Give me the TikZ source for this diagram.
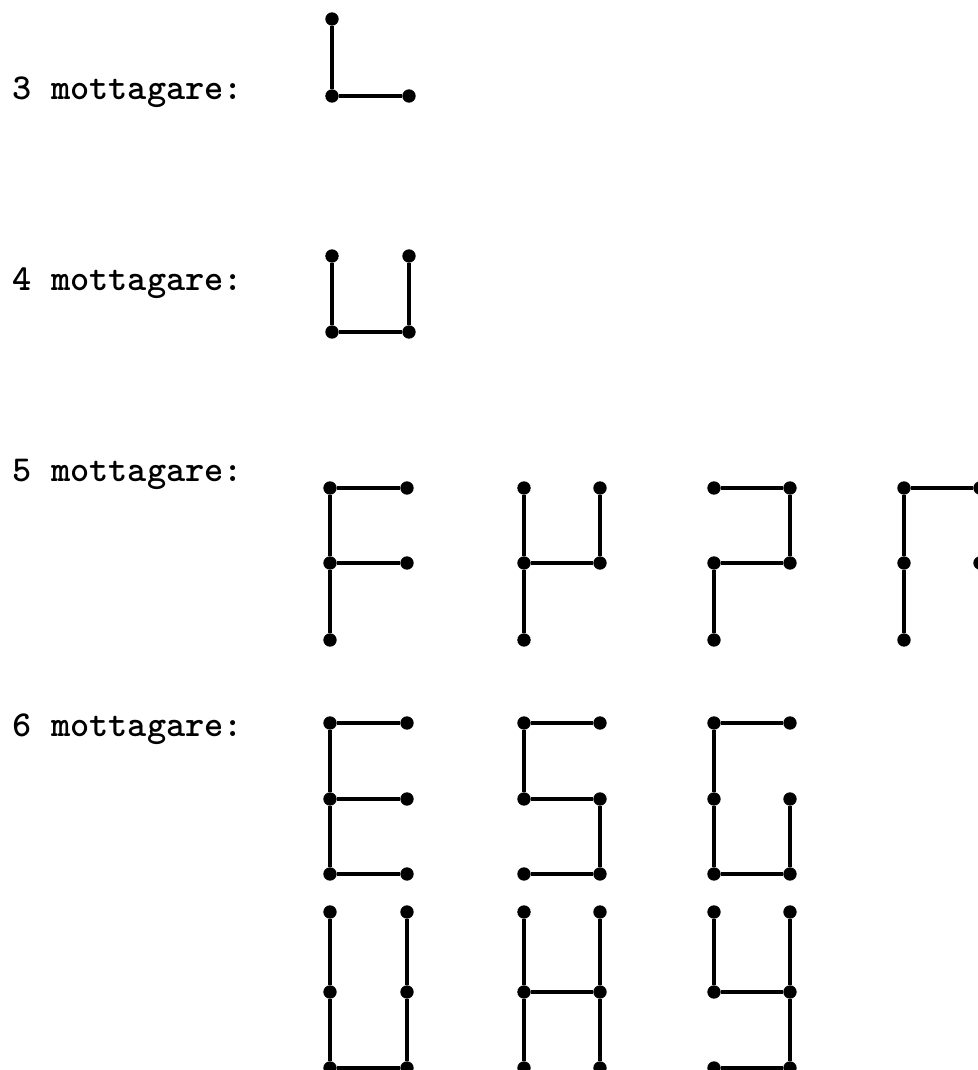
\documentclass[tikz,border=0pt]{standalone}
\usepackage{fontspec}
\usepackage{tikz}
\usetikzlibrary{positioning}

\begin{document}
\begin{tikzpicture}[
    font=\ttfamily\bfseries\fontsize{10.4}{12}\selectfont,
    rcv/.style={circle, fill=black, draw=none, minimum size=3.8pt, inner sep=0pt},
    link/.style={draw=black, line width=0.95pt},
    lbl/.style={anchor=west, inner sep=0pt},
]
% Frame (pixels divided by 100, y from the bottom)
\useasboundingbox (0,0) rectangle (9.78,10.70);

% Row labels
\node[lbl] (n3) at (0.12, 9.78) {3 mottagare:};
\node[lbl] (n4) at (0.12, 7.87) {4 mottagare:};
\node[lbl] (n5) at (0.12, 5.96) {5 mottagare:};
\node[lbl] (n6) at (0.12, 3.41) {6 mottagare:};

% 3 receivers
\node[rcv] (La1) at (3.32,10.51) {};
\node[rcv] (La2) at (3.32, 9.74) {};
\node[rcv] (Lb2) at (4.09, 9.74) {};

% 4 receivers
\node[rcv] (Ua1) at (3.32, 8.14) {};
\node[rcv] (Ub1) at (4.09, 8.14) {};
\node[rcv] (Ua2) at (3.32, 7.38) {};
\node[rcv] (Ub2) at (4.09, 7.38) {};

% 5 receivers
\node[rcv] (Fa1) at (3.30, 5.82) {};
\node[rcv] (Fb1) at (4.07, 5.82) {};
\node[rcv] (Fa2) at (3.30, 5.07) {};
\node[rcv] (Fb2) at (4.07, 5.07) {};
\node[rcv] (Fa3) at (3.30, 4.30) {};

\node[rcv] (Ka1) at (5.24, 5.82) {};
\node[rcv] (Kb1) at (6.00, 5.82) {};
\node[rcv] (Ka2) at (5.24, 5.07) {};
\node[rcv] (Kb2) at (6.00, 5.07) {};
\node[rcv] (Ka3) at (5.24, 4.30) {};

\node[rcv] (Pa1) at (7.14, 5.82) {};
\node[rcv] (Pb1) at (7.90, 5.82) {};
\node[rcv] (Pa2) at (7.14, 5.07) {};
\node[rcv] (Pb2) at (7.90, 5.07) {};
\node[rcv] (Pa3) at (7.14, 4.30) {};

\node[rcv] (Ra1) at (9.04, 5.82) {};
\node[rcv] (Rb1) at (9.80, 5.82) {};
\node[rcv] (Ra2) at (9.04, 5.07) {};
\node[rcv] (Rb2) at (9.80, 5.07) {};
\node[rcv] (Ra3) at (9.04, 4.30) {};

% 6 receivers, upper row
\node[rcv] (Ea1) at (3.30, 3.47) {};
\node[rcv] (Eb1) at (4.07, 3.47) {};
\node[rcv] (Ea2) at (3.30, 2.71) {};
\node[rcv] (Eb2) at (4.07, 2.71) {};
\node[rcv] (Ea3) at (3.30, 1.96) {};
\node[rcv] (Eb3) at (4.07, 1.96) {};

\node[rcv] (Sa1) at (5.24, 3.47) {};
\node[rcv] (Sb1) at (6.00, 3.47) {};
\node[rcv] (Sa2) at (5.24, 2.71) {};
\node[rcv] (Sb2) at (6.00, 2.71) {};
\node[rcv] (Sa3) at (5.24, 1.96) {};
\node[rcv] (Sb3) at (6.00, 1.96) {};

\node[rcv] (Ga1) at (7.14, 3.47) {};
\node[rcv] (Gb1) at (7.90, 3.47) {};
\node[rcv] (Ga2) at (7.14, 2.71) {};
\node[rcv] (Gb2) at (7.90, 2.71) {};
\node[rcv] (Ga3) at (7.14, 1.96) {};
\node[rcv] (Gb3) at (7.90, 1.96) {};

% 6 receivers, lower row
\node[rcv] (Wa1) at (3.30, 1.58) {};
\node[rcv] (Wb1) at (4.07, 1.58) {};
\node[rcv] (Wa2) at (3.30, 0.78) {};
\node[rcv] (Wb2) at (4.07, 0.78) {};
\node[rcv] (Wa3) at (3.30, 0.02) {};
\node[rcv] (Wb3) at (4.07, 0.02) {};

\node[rcv] (Ha1) at (5.24, 1.58) {};
\node[rcv] (Hb1) at (6.00, 1.58) {};
\node[rcv] (Ha2) at (5.24, 0.78) {};
\node[rcv] (Hb2) at (6.00, 0.78) {};
\node[rcv] (Ha3) at (5.24, 0.02) {};
\node[rcv] (Hb3) at (6.00, 0.02) {};

\node[rcv] (Ya1) at (7.14, 1.58) {};
\node[rcv] (Yb1) at (7.90, 1.58) {};
\node[rcv] (Ya2) at (7.14, 0.78) {};
\node[rcv] (Yb2) at (7.90, 0.78) {};
\node[rcv] (Ya3) at (7.14, 0.02) {};
\node[rcv] (Yb3) at (7.90, 0.02) {};

% Links
\draw[link] (La1) -- (La2) -- (Lb2);
\draw[link] (Ua1) -- (Ua2) -- (Ub2) -- (Ub1);

\draw[link] (Fb1) -- (Fa1) -- (Fa2) -- (Fa3);
\draw[link] (Fa2) -- (Fb2);
\draw[link] (Ka1) -- (Ka2) -- (Ka3);
\draw[link] (Ka2) -- (Kb2) -- (Kb1);
\draw[link] (Pa1) -- (Pb1) -- (Pb2) -- (Pa2) -- (Pa3);
\draw[link] (Rb1) -- (Ra1) -- (Ra2) -- (Ra3);

\draw[link] (Eb1) -- (Ea1) -- (Ea2) -- (Ea3) -- (Eb3);
\draw[link] (Ea2) -- (Eb2);
\draw[link] (Sb1) -- (Sa1) -- (Sa2) -- (Sb2) -- (Sb3) -- (Sa3);
\draw[link] (Gb1) -- (Ga1) -- (Ga2) -- (Ga3) -- (Gb3) -- (Gb2);

\draw[link] (Wa1) -- (Wa2) -- (Wa3) -- (Wb3) -- (Wb2) -- (Wb1);
\draw[link] (Ha1) -- (Ha2) -- (Ha3);
\draw[link] (Hb1) -- (Hb2) -- (Hb3);
\draw[link] (Ha2) -- (Hb2);
\draw[link] (Ya1) -- (Ya2) -- (Yb2);
\draw[link] (Yb1) -- (Yb2) -- (Yb3) -- (Ya3);
\end{tikzpicture}
\end{document}
